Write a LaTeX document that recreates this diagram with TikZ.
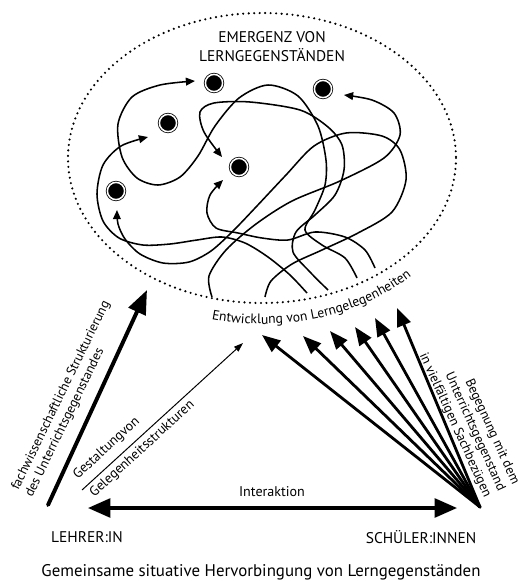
\documentclass[tikz,border=0pt]{standalone}
\usepackage{fontspec}
\setmainfont{PT Sans}
\usetikzlibrary{arrows.meta}
\usetikzlibrary{decorations.text}

\begin{document}
\begin{tikzpicture}[x=0.025cm, y=-0.025cm,
    ziel/.style={circle, fill=black, draw=black, double=white, double distance=1.1pt, line width=0.55pt, minimum size=0.43cm, inner sep=0pt},
    weg/.style={line width=1.1pt},
    spitze/.style={-{Triangle[length=6.5pt,width=5.5pt]}},
    punkte/.style={line width=1.7pt, line cap=round, dash pattern=on 0pt off 3.9pt},
    beschriftung/.style={font=\fontsize{9.4}{11}\selectfont, inner sep=0pt}]

  \useasboundingbox (0,0) rectangle (525,581);

  % Ellipse
  \draw[punkte] (262,158) ellipse [x radius=194, y radius=145];
  \node[font=\fontsize{11}{13.5}\selectfont, align=center] (titel) at (272,47) {EMERGENZ VON\\LERNGEGENSTÄNDEN};

  % Ziele
  \node[ziel] (z1) at (214,83) {};
  \node[ziel] (z2) at (323,89) {};
  \node[ziel] (z3) at (168,123) {};
  \node[ziel] (z4) at (239,167) {};
  \node[ziel] (z5) at (116,191) {};

  % Wege
  \draw[weg, spitze] plot[smooth] coordinates {(212,297) (209,276) (226,250) (256,224) (292,201) (340,181) (384,158) (400,135) (394,113) (372,100) (344,95)};
  \draw[weg, spitze] plot[smooth] coordinates {(265,297) (271,281) (292,264) (322,250) (358,233) (392,212) (406,180) (400,150) (382,136) (346,133) (314,146) (286,175) (256,207) (233,231) (211,251) (189,262) (163,263) (140,254) (125,239) (118,224) (117,210)};
  \draw[weg, spitze] plot[smooth] coordinates {(307,293) (290,275) (268,257) (245,243) (222,237) (197,240) (170,244) (143,245) (119,238) (103,221) (97,194) (103,165) (121,146) (148,137)};
  \draw[weg, spitze] plot[smooth] coordinates {(357,278) (345,258) (322,245) (305,230) (315,210) (325,185) (326,160) (318,126) (298,96) (268,85) (239,98) (215,126) (198,156) (180,177) (158,185) (137,178) (122,157) (118,124) (132,97) (160,85) (195,81)};
  \draw[weg, spitze] plot[smooth] coordinates {(328,290) (310,272) (293,252) (296,232) (315,215) (335,195) (344,170) (342,145) (328,127) (300,110) (250,102) (214,103) (200,112) (204,132) (222,157)};
  \draw[weg, spitze] plot[smooth] coordinates {(375,268) (365,250) (345,237) (315,232) (288,240) (262,238) (238,233) (216,228) (207,213) (210,195) (223,180)};

  \path[decorate, decoration={text along path, text align=center, text={|\fontsize{9.7}{11}\selectfont|Entwicklung von Lerngelegenheiten}}]
    (213,319.5) arc[start angle=256.6, end angle=314.3, x radius=5.3cm, y radius=4.15cm];

  % Akteure
  \node[font=\fontsize{11}{13}\selectfont] (lehrer) at (87,537) {LEHRER:IN};
  \node[font=\fontsize{11}{13}\selectfont] (schueler) at (421,537) {SCHÜLER:INNEN};
  \node[font=\fontsize{12}{14}\selectfont] (gemeinsam) at (261,572) {Gemeinsame situative Hervorbingung von Lerngegenständen};
  \node[font=\fontsize{10}{12}\selectfont] (interaktion) at (272,492) {Interaktion};

  \coordinate (l-fuss) at (48,505);
  \coordinate (l-kopf) at (147,290);
  \coordinate (g-fuss) at (82,490);
  \coordinate (g-kopf) at (243,343);
  \coordinate (i-links) at (88,508);
  \coordinate (i-rechts) at (457,508);
  \coordinate (s-fuss) at (480,507);
  \foreach \x/\y [count=\i] in {262/335, 303/336, 330/331, 355/327, 375/318, 397/308}
    \coordinate (f\i) at (\x,\y);

  % Pfeile
  \draw[line width=2.8pt, line cap=round, -{Triangle[length=17pt,width=13pt]}] (l-fuss) -- (l-kopf);
  \draw[line width=0.7pt, -{Triangle[length=6.5pt,width=4.5pt]}] (g-fuss) -- (g-kopf);
  \draw[line width=2.2pt, {Triangle[length=16pt,width=13.5pt]}-{Triangle[length=16pt,width=13.5pt]}] (i-links) -- (i-rechts);
  \foreach \i in {1,...,6}
    \draw[line width=2pt, line cap=round, -{Triangle[length=13pt,width=10pt]}] (s-fuss) -- (f\i);

  % Beschriftungen
  \node[beschriftung, rotate=64, align=left] (fach) at (68,399) {fachwissenschaftliche Strukturierung\\des Unterrichtsgegenstandes};
  \node[beschriftung, font=\fontsize{9.7}{17.5}\selectfont, rotate=42.4, align=left] (gestaltung) at (134,440) {Gestaltungvon\\Gelegenheitsstrukturen};
  \node[beschriftung, rotate=-65.6, align=right] (begegnung) at (469,419) {Begegnung mit dem\\Unterrichtsgegenstand\\in vielfältigen Sachbezügen};
\end{tikzpicture}
\end{document}
